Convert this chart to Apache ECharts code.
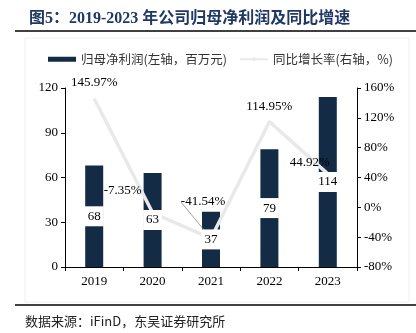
<!DOCTYPE html>
<html><head><meta charset="utf-8">
<script src="https://cdn.jsdelivr.net/npm/echarts@6/dist/echarts.min.js"></script>
<style>html,body{margin:0;padding:0;background:#fff}#c{width:416px;height:333px}</style>
</head><body><div id="c"></div>
<script>
const categories = ['2019','2020','2021','2022','2023'];
const profit = [68, 63, 37, 79, 114];
const growth = [145.97, -7.35, -41.54, 114.95, 44.92];
const leftTicks = {min:0, max:120, interval:30};
const rightTicks = {min:-80, max:160, interval:40};
const growthLabelShift = [[0,-4],[-30,-11],[-8,-25],[0,-4],[-18,0]];

const serif = '"Liberation Serif","Times New Roman","Noto Sans CJK SC",serif';
const cjk = '"Noto Sans CJK SC","Liberation Serif",sans-serif';
const chart = echarts.init(document.getElementById('c'), null, {renderer:'canvas'});
chart.setOption({
  animation:false,
  title:{text:'图5：2019-2023 年公司归母净利润及同比增速', left:24, top:6,
    textStyle:{fontFamily:'"Liberation Serif","Noto Sans CJK SC",serif', fontWeight:'bold', fontSize:16, color:'#1f3864'}},
  graphic:[
    {type:'line', shape:{x1:15,y1:31,x2:416,y2:31}, style:{stroke:'#000', lineWidth:1.5}},
    {type:'rect', shape:{x:25,y:38,width:384,height:264}, style:{fill:'none', stroke:'#f0f0f0', lineWidth:1}},
    {type:'line', shape:{x1:15,y1:305,x2:416,y2:305}, style:{stroke:'#000', lineWidth:1.5}},
    {type:'text', left:25, top:315, style:{text:'数据来源：iFinD，东吴证券研究所', font:'13px '+cjk, fill:'#222'}}
  ],
  legend:{left:43, top:48, itemGap:12, itemWidth:28, itemHeight:5,
    textStyle:{fontFamily:cjk, fontSize:12.5, color:'#333'},
    data:[{name:'归母净利润(左轴，百万元)', icon:'rect'},{name:'同比增长率(右轴，%)'}]},
  grid:{left:65, right:59, top:88, bottom:66},
  xAxis:{type:'category', data:categories,
    axisLine:{lineStyle:{color:'#000', width:1}},
    axisTick:{show:true, length:4, lineStyle:{color:'#000'}},
    axisLabel:{color:'#000', fontFamily:serif, fontSize:13, margin:8}},
  yAxis:[
    {type:'value', min:leftTicks.min, max:leftTicks.max, interval:leftTicks.interval,
      splitLine:{show:false}, axisLine:{show:true, lineStyle:{color:'#000'}},
      axisTick:{show:true, length:4, lineStyle:{color:'#000'}},
      axisLabel:{color:'#000', fontFamily:serif, fontSize:13, margin:7}},
    {type:'value', min:rightTicks.min, max:rightTicks.max, interval:rightTicks.interval,
      splitLine:{show:false}, axisLine:{show:true, lineStyle:{color:'#000'}},
      axisTick:{show:true, length:4, lineStyle:{color:'#000'}},
      axisLabel:{color:'#000', fontFamily:serif, fontSize:13, margin:7, formatter:'{value}%'}}
  ],
  series:[
    {name:'归母净利润(左轴，百万元)', type:'bar', yAxisIndex:0, data:profit, barWidth:18,
      itemStyle:{color:'#132b45'}, z:2},
    {name:'profitLabels', type:'bar', yAxisIndex:0, data:profit, barWidth:18, barGap:'-100%',
      itemStyle:{color:'rgba(0,0,0,0)'}, z:10, silent:true,
      label:{show:true, position:'inside', backgroundColor:'#fff', color:'#000',
        fontFamily:serif, fontSize:13, padding:[4,3,3,3]}},
    {name:'同比增长率(右轴，%)', type:'line', yAxisIndex:1, z:5,
      data:growth.map((v,i)=>({value:v, labelLine:{show:i===2, lineStyle:{color:'#888', width:0.8}}})),
      symbol:'circle', symbolSize:0, showSymbol:true,
      lineStyle:{color:'#e9e9e9', width:3.5}, itemStyle:{color:'#e9e9e9'},
      label:{show:true, position:'top', distance:5, color:'#000', fontFamily:serif, fontSize:13,
        formatter:p=>p.value.toFixed(2)+'%'},
      labelLayout:p=>({dx:growthLabelShift[p.dataIndex][0], dy:growthLabelShift[p.dataIndex][1]})}
  ]
});
</script></body></html>
